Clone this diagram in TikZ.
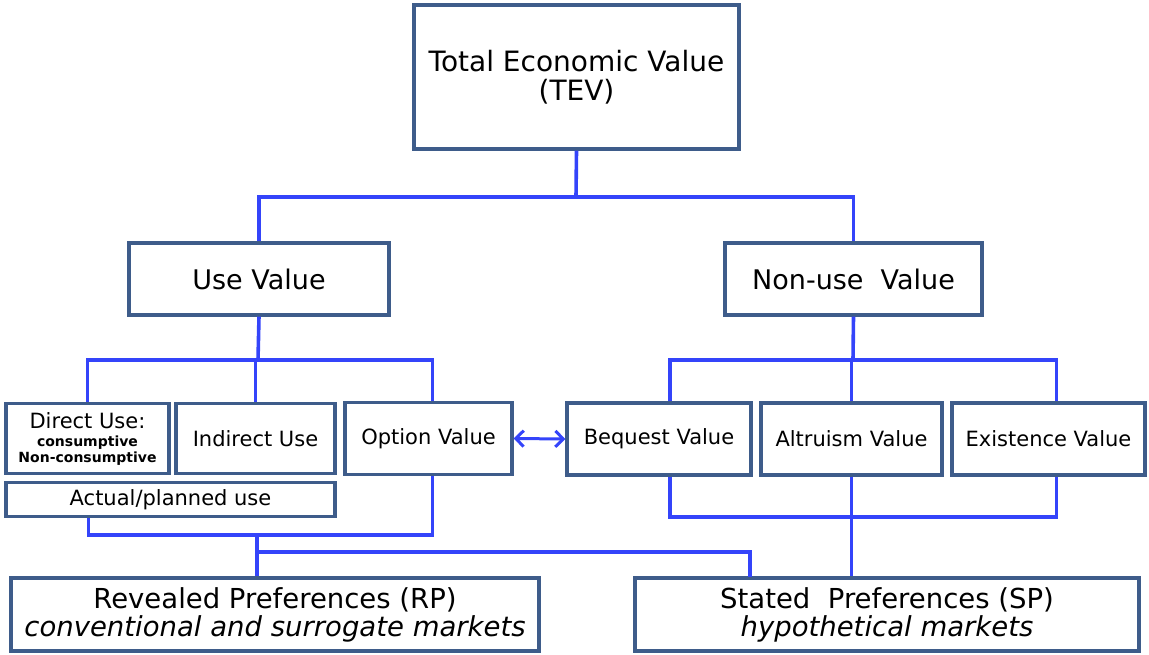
\documentclass[tikz,border=0pt]{standalone}
\usepackage{fontspec}
\setmainfont{DejaVu Sans}
\usetikzlibrary{arrows.meta}
\definecolor{boxblue}{RGB}{62,92,138}
\definecolor{linkblue}{RGB}{52,68,250}
\newcommand{\linkcolor}{linkblue}
\tikzstyle{box}=[draw=boxblue, line width=3.2pt, fill=white, inner sep=0, align=center]
\tikzstyle{link}=[draw=\linkcolor, line width=3.6pt]
\tikzstyle{big}=[font=\fontsize{27}{29}\selectfont]
\tikzstyle{mid}=[font=\fontsize{21}{24}\selectfont]

\begin{document}
\begin{tikzpicture}[x=1pt, y=-1pt]
    \useasboundingbox (0, 0) rectangle (1149, 655);
    % top level
    \node[box, big, font=\fontsize{28}{29}\selectfont, minimum width=325, minimum height=144] (tev) at (576.5, 77) {Total Economic Value\\(TEV)};
    \node[box, big, minimum width=260, minimum height=72] (use) at (259, 279) {Use Value};
    \node[box, big, minimum width=257, minimum height=72] (nonuse) at (853.5, 279) {Non-use\ \ Value};
    % use values
    \node[box, mid, minimum width=163, minimum height=70] (direct) at (87.5, 438.5) {Direct Use:\\[-6pt]{\fontsize{14}{15}\selectfont\bfseries consumptive}\\[-8pt]{\fontsize{14}{15}\selectfont\bfseries Non-consumptive}};
    \node[box, mid, minimum width=159, minimum height=70] (indirect) at (255.5, 438.5) {Indirect Use};
    \node[box, mid, minimum width=167, minimum height=72] (option) at (428.5, 438.5) {Option Value};
    \node[box, mid, minimum width=329, minimum height=34] (actual) at (170.5, 499.5) {Actual/planned use};
    % non-use values
    \node[box, mid, minimum width=184, minimum height=72] (bequest) at (659, 439) {Bequest Value};
    \node[box, mid, minimum width=181, minimum height=72] (altruism) at (851.5, 439) {Altruism Value};
    \node[box, mid, minimum width=193, minimum height=72] (existence) at (1048.5, 439) {Existence Value};
    % methods
    \node[box, big, font=\fontsize{27.5}{28}\selectfont, minimum width=528, minimum height=73] (rp) at (275, 614.5) {Revealed Preferences (RP)\\\itshape conventional and surrogate markets};
    \node[box, big, font=\fontsize{27.5}{28}\selectfont, minimum width=504, minimum height=73] (sp) at (887, 614.5) {Stated\ \ Preferences (SP)\\\itshape hypothetical markets};
    % junctions
    \coordinate (busA) at (576, 197);
    \coordinate (busB) at (258, 360);
    \coordinate (busC) at (257, 535);
    \coordinate (busD) at (257, 552);
    \coordinate (busE) at (853, 360);
    \coordinate (busF) at (853, 517);
    \coordinate (spin) at (750, 577);
    \draw[link] (tev.south) -- (busA);
    \draw[link] (use.north) |- (busA) -| (nonuse.north);
    \draw[link] (use.south) -- (busB);
    \draw[link] (direct.north) |- (busB) -| ([xshift=4]option.north);
    \draw[link] (indirect.north) -- (indirect.north |- busB);
    \draw[link] ([xshift=-82]actual.south) |- (busC) -| ([xshift=4]option.south);
    \draw[link] (busC) -- (busC |- rp.north);
    \draw[link] (busD) -| (spin);
    \draw[link] (nonuse.south) -- (busE);
    \draw[link] ([xshift=11]bequest.north) |- (busE) -| ([xshift=8]existence.north);
    \draw[link] (altruism.north) -- (altruism.north |- busE);
    \draw[link] ([xshift=11]bequest.south) |- (busF) -| ([xshift=8]existence.south);
    \draw[link] (altruism.south) -- (altruism.south |- sp.north);
    \draw[link, {Straight Barb[length=8pt, width=16pt]}-{Straight Barb[length=8pt, width=16pt]}, line width=3pt] (option.east) -- (bequest.west);
\end{tikzpicture}
\end{document}
